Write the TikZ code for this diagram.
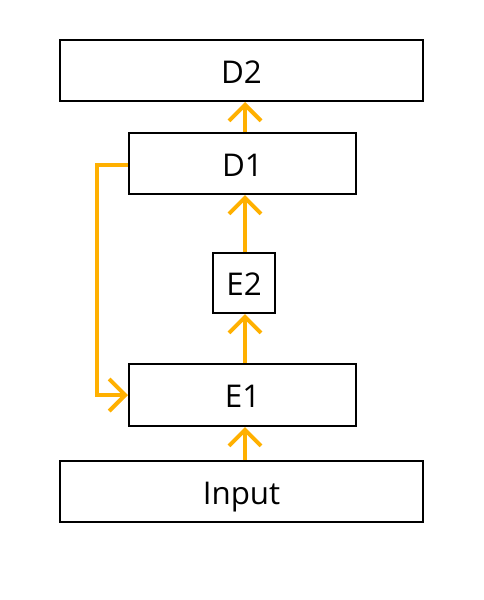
\documentclass[tikz,border=0pt]{standalone}
\usepackage{fontspec}
\setmainfont{Open Sans}
\usetikzlibrary{arrows.meta}
\definecolor{arr}{HTML}{FFB000}
\newcommand{\lowtxt}[1]{\raisebox{-2pt}{#1}}
\begin{document}
\begin{tikzpicture}[x=0.75pt,y=-0.75pt,
  box/.style={draw=black,line width=1.5pt,fill=white,inner sep=0pt,text depth=0pt,font=\fontsize{23.5}{27}\selectfont},
  link/.style={draw=arr,line width=3pt,-{Straight Barb[length=12pt,width=24pt,line width=3pt]}}]
\useasboundingbox (0,0) rectangle (483,600);
\node[box,minimum width=363*0.75pt,minimum height=61*0.75pt] (d2) at (241.5,70.5) {\lowtxt{D2}};
\node[box,minimum width=227*0.75pt,minimum height=61*0.75pt] (d1) at (242.5,163.5) {\lowtxt{D1}};
\node[box,minimum width=62*0.75pt,minimum height=60*0.75pt] (e2) at (244,283) {\lowtxt{E2}};
\node[box,minimum width=227*0.75pt,minimum height=62*0.75pt] (e1) at (242.5,395) {\lowtxt{E1}};
\node[box,minimum width=363*0.75pt,minimum height=61*0.75pt] (in) at (241.5,491.5) {\lowtxt{Input}};
\draw[link] (in.north -| 245,0) -- (e1.south -| 245,0);
\draw[link] (e1.north -| 245,0) -- (e2.south -| 245,0);
\draw[link] (e2.north -| 245,0) -- (d1.south -| 245,0);
\draw[link] (d1.north -| 245,0) -- (d2.south -| 245,0);
\coordinate (k1) at (97,165);
\coordinate (k2) at (97,395);
\draw[link] (d1.west |- k1) -- (k1) -- (k2) -- (e1.west |- k2);
\end{tikzpicture}
\end{document}
